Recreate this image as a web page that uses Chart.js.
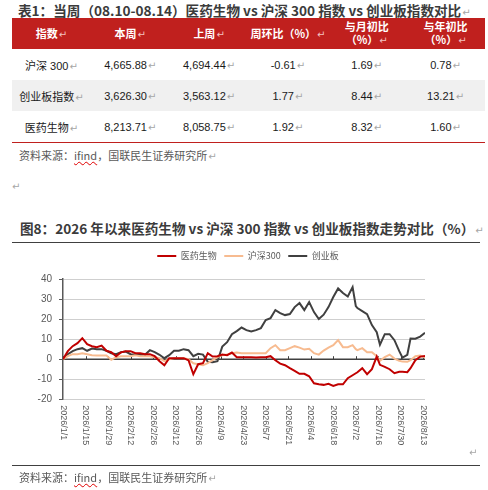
<!DOCTYPE html>
<html>
<head>
<meta charset="utf-8">
<script src="https://cdn.jsdelivr.net/npm/chart.js@4.4.1/dist/chart.umd.min.js"></script>
<style>
  html, body { margin: 0; padding: 0; background: #fff; }
  body { width: 488px; height: 490px; position: relative; overflow: hidden;
         font-family: "Liberation Sans", "Noto Sans CJK SC", sans-serif; color: #262626; }
  .pm { color: #a6a6a6; font-weight: normal; font-size: 10px; margin-left: 1px; font-family: "DejaVu Sans", sans-serif; }
  .title { position: absolute; font-size: 13.6px; font-weight: bold; color: #3b3b3b; white-space: nowrap;
           font-family: "Noto Sans CJK SC", sans-serif; line-height: 16px; }
  table { position: absolute; left: 12px; top: 18px; width: 473px; border-collapse: collapse;
          table-layout: fixed; font-size: 11px; font-family: "Liberation Sans", "Noto Sans CJK SC", sans-serif; }
  th { background: #c0201e; color: #fff; height: 31px; padding: 0; font-weight: bold; line-height: 13px;
       font-family: "Noto Sans CJK SC", sans-serif; font-size: 11px; }
  th .pm { color: #f3c0c0; }
  td { height: 31px; padding: 0; text-align: center; color: #1a1a1a; }
  tr.alt td { background: #f0f0f0; }
  tbody tr:last-child td { border-bottom: 1px solid #c0201e; }
  .src { position: absolute; left: 19px; font-size: 11px; color: #595959; white-space: nowrap;
         font-family: "Noto Sans CJK SC", sans-serif; }
  .wavy { text-decoration: underline wavy #e00000; text-decoration-thickness: 1px; }
  .rule { position: absolute; left: 12px; width: 468px; height: 1px; background: #404040; }
  #chartBox { position: absolute; left: 0; top: 236px; width: 488px; height: 228px; }
</style>
</head>
<body>
<div class="title" style="left:18px;top:2px;">表1：当周（08.10-08.14）医药生物 vs 沪深 300 指数 vs 创业板指数对比<span class="pm">↵</span></div>
<table>
  <thead>
    <tr>
      <th>指数<span class="pm">↵</span></th>
      <th>本周<span class="pm">↵</span></th>
      <th>上周<span class="pm">↵</span></th>
      <th>周环比（%）<span class="pm">↵</span></th>
      <th>与月初比<br>（%）<span class="pm">↵</span></th>
      <th>与年初比<br>（%）<span class="pm">↵</span></th>
    </tr>
  </thead>
  <tbody id="tbody"></tbody>
</table>
<div class="src" style="top:147px;">资料来源：<span class="wavy">ifind</span>，国联民生证券研究所<span class="pm">↵</span></div>
<div class="pm" style="position:absolute;left:11px;top:181px;">↵</div>

<div class="title" style="left:20px;top:220px;">图8：2026 年以来医药生物 vs 沪深 300 指数 vs 创业板指数走势对比（%）<span class="pm">↵</span></div>
<div class="rule" style="top:242px;"></div>
<div id="chartBox"><canvas id="chart"></canvas></div>
<div class="pm" style="position:absolute;left:468px;top:447px;">↵</div>
<div class="rule" style="top:465px;"></div>
<div class="src" style="top:469px;">资料来源：<span class="wavy">ifind</span>，国联民生证券研究所<span class="pm">↵</span></div>

<script>
// table rows
const tableNames = ['沪深 300', '创业板指数', '医药生物'];
const thisWeek = ['4,665.88', '3,626.30', '8,213.71'];
const lastWeek = ['4,694.44', '3,563.12', '8,058.75'];
const weekChange = ['-0.61', '1.77', '1.92'];
const monthChange = ['1.69', '8.44', '8.32'];
const yearChange = ['0.78', '13.21', '1.60'];

// chart data
const seriesNames = ['医药生物', '沪深300', '创业板'];
const seriesColors = ['#c00000', '#f7bb90', '#404040'];

const dates = [
  '2026/1/1','2026/1/4','2026/1/7','2026/1/10','2026/1/13','2026/1/16','2026/1/19','2026/1/22','2026/1/25','2026/1/28','2026/1/31',
  '2026/2/3','2026/2/6','2026/2/9','2026/2/12','2026/2/15','2026/2/18','2026/2/21','2026/2/24','2026/2/27',
  '2026/3/2','2026/3/5','2026/3/8','2026/3/11','2026/3/14','2026/3/17','2026/3/20','2026/3/23','2026/3/26','2026/3/29',
  '2026/4/1','2026/4/4','2026/4/7','2026/4/10','2026/4/13','2026/4/16','2026/4/19','2026/4/22','2026/4/25','2026/4/28',
  '2026/5/1','2026/5/4','2026/5/7','2026/5/10','2026/5/13','2026/5/16','2026/5/19','2026/5/22','2026/5/25','2026/5/28','2026/5/31',
  '2026/6/3','2026/6/6','2026/6/9','2026/6/12','2026/6/15','2026/6/18','2026/6/21','2026/6/24','2026/6/27','2026/6/30',
  '2026/7/2','2026/7/3','2026/7/6','2026/7/9','2026/7/12','2026/7/15','2026/7/17','2026/7/20','2026/7/23','2026/7/26','2026/7/29','2026/7/31',
  '2026/8/3','2026/8/5','2026/8/8','2026/8/11','2026/8/14'
];

const pharma = [
  0, 4, 6.5, 8, 10.5, 7.5, 6.5, 6, 6.8, 4.2, 3.5,
  1.5, 3.4, 4, 4, 3, 3, 2.5, 2.5, 1.5,
  -1, -3, 0.5, 0.5, 0.5, 0.5, -0.5, -7.5, -2.5, -2,
  3, 1.3, 1.5, 2.3, 2, 3.3, 1, 1, 1, 1,
  0.8, 1, 1, 1.5, -0.5, -2.2, -3, -4.5, -5.8, -7.3, -7.3,
  -8.5, -12, -12.5, -12.8, -12.3, -13.3, -12.5, -12.5, -9.5, -8,
  -7, -6.5, -4.5, -7.5, -5, 1.3, -2.8, -3.8, -5, -7, -6.3, -6.3,
  -6.5, -4.5, -0.5, 1.3, 1.6
];

const hs300 = [
  0, 1.5, 2.5, 2.5, 3, 2.5, 2, 1.8, 1.8, 1.8, -0.3,
  1, 1.5, 1.5, 1.5, 2, 1.5, 1.5, 1.5, 1,
  0.5, -1, 0, 0.5, 0.5, 0.5, 0, -2, -2.5, -3,
  -2, -0.5, 1, 2, 2.3, 3, 3.3, 3, 3, 3,
  3, 3, 3, 5.5, 7, 4.5, 4.5, 5.5, 6.5, 5.8, 4.8,
  5.2, 3, 2.3, 4.3, 5.8, 7, 9.5, 6, 6, 7,
  5, 4.5, 5.5, 3.5, 3.5, 1.5, -0.8, 1, 2.3, 0.3, -0.8, -1.2,
  -1.3, -0.5, 1.5, 1.8, 0.8
];

const chinext = [
  0, 2.5, 4, 5, 5.5, 4.2, 5.3, 5, 5, 4.2, 3,
  2.5, 3.5, 3.8, 2.5, 2.2, 2.2, 2.2, 4.5, 3.5,
  2.2, 0.5, 2, 4.2, 4.2, 5, 4.5, 1.5, 2.7, 2.3,
  -1.3, -1.5, -1, 6.3, 8.5, 12.5, 14, 15.8, 14.5, 13.8,
  14.5, 15.5, 19.5, 20.5, 24.5, 23, 22, 22.5, 26, 28, 24.5,
  28.5, 23.5, 20, 22.2, 26, 31, 35.3, 33, 31.3, 36,
  26.5, 25.5, 24, 22.5, 17, 13.5, 7.2, 12.5, 12.5, 9.5, 4, 0.8,
  2.2, 10.3, 10.2, 11.3, 13.2
];

const tickLabels = [
  '2026/1/1','2026/1/15','2026/1/29','2026/2/12','2026/2/26','2026/3/12','2026/3/26','2026/4/9',
  '2026/4/23','2026/5/7','2026/5/21','2026/6/4','2026/6/18','2026/7/2','2026/7/16','2026/7/30','2026/8/13'
];

// build table body
const tbody = document.getElementById('tbody');
tableNames.forEach((name, i) => {
  const tr = document.createElement('tr');
  if (i === 1) tr.className = 'alt';
  [name, thisWeek[i], lastWeek[i], weekChange[i], monthChange[i], yearChange[i]].forEach(v => {
    const td = document.createElement('td');
    td.innerHTML = v + '<span class="pm">↵</span>';
    tr.appendChild(td);
  });
  tbody.appendChild(tr);
});

// days since 2026/1/1
function dayOf(s) {
  const [yy, mm, dd] = s.split('/').map(Number);
  return (Date.UTC(yy, mm - 1, dd) - Date.UTC(2026, 0, 1)) / 86400000;
}

function toPoints(values) {
  return values.map((v, i) => ({ x: dayOf(dates[i]), y: v }));
}

// leave a gap between the legend and the plot, and nudge it right
const legendGap = {
  id: 'legendGap',
  afterInit(chart) {
    const lg = chart.legend;
    if (!lg) return;
    const fit = lg.fit.bind(lg);
    lg.fit = function () { fit(); this.height += 8.5; };
  },
  afterLayout(chart) {
    const lg = chart.legend;
    if (!lg) return;
    lg.left += 24;
    lg.right += 24;
  }
};

// zero line, small ticks on it, and vertical date labels below the plot
const dateAxis = {
  id: 'dateAxis',
  beforeDatasetsDraw(chart) {
    const { ctx, chartArea, scales: { x, y } } = chart;
    const y0 = y.getPixelForValue(0);
    ctx.save();
    ctx.strokeStyle = '#404040';
    ctx.lineWidth = 1.5;
    ctx.beginPath();
    ctx.moveTo(chartArea.left, y0);
    ctx.lineTo(chartArea.right, y0);
    ctx.stroke();
    ctx.lineWidth = 1;
    tickLabels.forEach(t => {
      const px = Math.round(x.getPixelForValue(dayOf(t))) + 0.5;
      ctx.beginPath();
      ctx.moveTo(px, y0 - 3);
      ctx.lineTo(px, y0);
      ctx.stroke();
    });
    ctx.restore();
  },
  afterDraw(chart) {
    const { ctx, chartArea, scales: { x } } = chart;
    ctx.save();
    ctx.fillStyle = '#595959';
    ctx.font = '9px "Liberation Sans", sans-serif';
    ctx.textAlign = 'left';
    ctx.textBaseline = 'middle';
    tickLabels.forEach(t => {
      ctx.save();
      ctx.translate(x.getPixelForValue(dayOf(t)), chartArea.bottom + 6);
      ctx.rotate(Math.PI / 2);
      ctx.fillText(t, 0, 0);
      ctx.restore();
    });
    ctx.restore();
  }
};

Chart.defaults.font.family = '"Liberation Sans", "Noto Sans CJK SC", sans-serif';

new Chart(document.getElementById('chart'), {
  type: 'line',
  data: {
    datasets: [pharma, hs300, chinext].map((vals, i) => ({
      label: seriesNames[i],
      data: toPoints(vals),
      borderColor: seriesColors[i],
      backgroundColor: seriesColors[i],
      borderWidth: 2,
      pointRadius: 0,
      tension: 0,
      fill: false
    }))
  },
  options: {
    responsive: true,
    maintainAspectRatio: false,
    animation: false,
    layout: { padding: { left: 23, right: 63, top: 8, bottom: 64.7 } },
    plugins: {
      legend: {
        position: 'top',
        labels: {
          usePointStyle: true,
          pointStyle: 'line',
          pointStyleWidth: 19,
          color: '#595959',
          font: { size: 9, family: '"Noto Sans CJK SC", sans-serif' },
          padding: 7.5
        }
      },
      tooltip: { enabled: false }
    },
    scales: {
      x: { type: 'linear', display: false, min: 0, max: 225 },
      y: {
        min: -20,
        max: 40,
        afterFit(s) { s.width = 40; },
        ticks: { stepSize: 10, color: '#595959', font: { size: 10 }, padding: 7 },
        grid: {
          color: c => (c.tick && c.tick.value === 0) ? 'rgba(0,0,0,0)' : '#cfcfcf',
          borderDash: [2, 2],
          tickLength: 4,
          tickColor: '#595959',
          tickBorderDash: [],
          tickWidth: 1
        },
        border: { color: '#595959', width: 1.5 }
      }
    }
  },
  plugins: [legendGap, dateAxis]
});
</script>
</body>
</html>
